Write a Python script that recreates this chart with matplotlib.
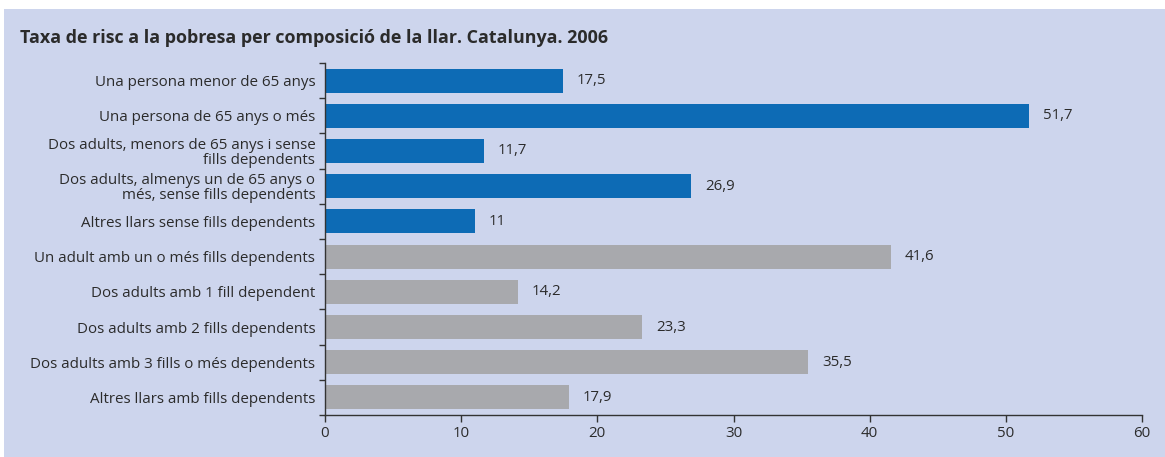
import matplotlib
matplotlib.use("Agg")
import matplotlib.pyplot as plt
import numpy as np

# Dades
categories = [
    "Una persona menor de 65 anys",
    "Una persona de 65 anys o més",
    "Dos adults, menors de 65 anys i sense\nfills dependents",
    "Dos adults, almenys un de 65 anys o\nmés, sense fills dependents",
    "Altres llars sense fills dependents",
    "Un adult amb un o més fills dependents",
    "Dos adults amb 1 fill dependent",
    "Dos adults amb 2 fills dependents",
    "Dos adults amb 3 fills o més dependents",
    "Altres llars amb fills dependents",
]
values = [17.5, 51.7, 11.7, 26.9, 11, 41.6, 14.2, 23.3, 35.5, 17.9]
groups = ["sense", "sense", "sense", "sense", "sense",
          "amb", "amb", "amb", "amb", "amb"]
x_ticks = [0, 10, 20, 30, 40, 50, 60]
title = "Taxa de risc a la pobresa per composició de la llar. Catalunya. 2006"

bg = "#cdd5ed"
group_colors = {"sense": "#0d6bb5", "amb": "#a8a9ad"}
text_color = "#2b2b2b"

plt.rcParams['font.family'] = ['Open Sans', 'DejaVu Sans']

fig = plt.figure(figsize=(11.65, 4.57), dpi=100)
fig.patch.set_facecolor("white")
# panel de fons
fig.patches.append(plt.Rectangle((4 / 1165, 0), 1 - 4 / 1165, 1 - 9 / 457,
                                 transform=fig.transFigure, facecolor=bg,
                                 edgecolor="none", zorder=-1))

ax = fig.add_axes([325 / 1165, 1 - 415 / 457, (1142 - 325) / 1165, 352 / 457])
ax.set_facecolor("none")

y = np.arange(len(categories))
colors = [group_colors[g] for g in groups]
ax.barh(y, values, height=0.68, color=colors)

for yi, v in zip(y, values):
    label = f"{v:g}".replace(".", ",")
    ax.text(v + 1.0, yi, label, va="center", ha="left", fontsize=10.8,
            color=text_color)

ax.set_ylim(len(categories) - 0.5, -0.5)
ax.set_xlim(0, 60)
ax.set_xticks(x_ticks)
ax.set_xticklabels([str(t) for t in x_ticks], fontsize=10.8, color=text_color)

ax.set_yticks(y)
ax.set_yticklabels(categories, fontsize=10.9, color=text_color,
                   linespacing=1.0)
ax.tick_params(axis="y", length=0, pad=7)
ax.set_yticks(np.arange(len(categories) + 1) - 0.5, minor=True)
ax.tick_params(axis="y", which="minor", length=4, width=1, color="#333333")
ax.tick_params(axis="x", length=5, width=1, color="#333333", pad=3)

for s in ["top", "right"]:
    ax.spines[s].set_visible(False)
for s in ["left", "bottom"]:
    ax.spines[s].set_color("#333333")
    ax.spines[s].set_linewidth(1)

fig.text(20 / 1165, 1 - 38 / 457, title, fontsize=12.9, fontweight="bold",
         color=text_color, va="center", ha="left")

fig.savefig("out.png", dpi=100, facecolor=fig.get_facecolor())
